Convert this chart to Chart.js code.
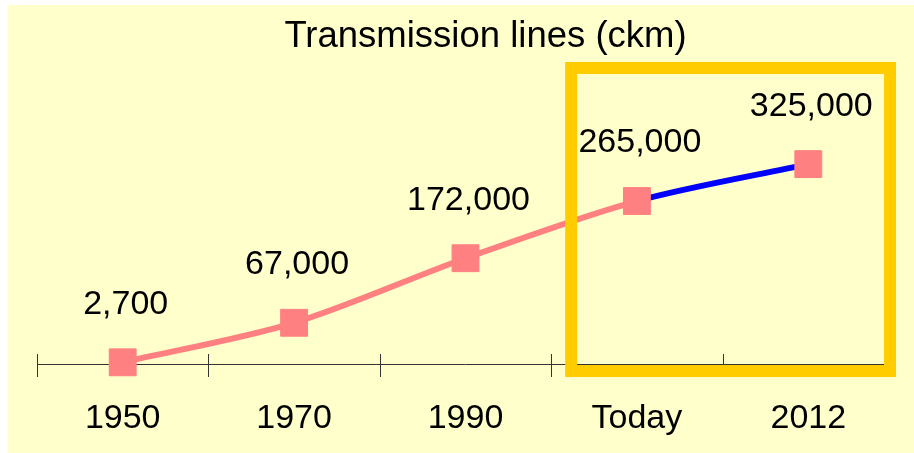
<!DOCTYPE html>
<html>
<head>
<meta charset="utf-8">
<script src="https://cdn.jsdelivr.net/npm/chart.js@4/dist/chart.umd.min.js"></script>
<style>
  html, body { margin: 0; padding: 0; background: #ffffff; }
  #wrap { width: 914px; height: 453px; position: relative; }
</style>
</head>
<body>
<div id="wrap"><canvas id="c" width="914" height="453"></canvas></div>
<script>
const titleText = 'Transmission lines (ckm)';
const categories = ['1950', '1970', '1990', 'Today', '2012'];
const lengthValues = [2700, 67000, 172000, 265000, 325000];
const valueLabels = ['2,700', '67,000', '172,000', '265,000', '325,000'];
const highlightCategories = ['Today', '2012'];
const forecastFromIndex = 3;

const FONT = '"Liberation Sans", Arial, sans-serif';
const PINK = '#FF8080';
const BLUE = '#0000FF';
const GOLD = '#FFCC00';
const BG = '#FFFFCC';

const bgPlugin = {
  id: 'bg',
  beforeDraw(chart) {
    const ctx = chart.ctx;
    ctx.save();
    ctx.fillStyle = BG;
    ctx.fillRect(8, 5, chart.width - 8, chart.height - 5);
    ctx.restore();
  }
};

const titlePlugin = {
  id: 'titleText',
  afterDraw(chart) {
    const ctx = chart.ctx, area = chart.chartArea;
    ctx.save();
    ctx.fillStyle = '#000000';
    ctx.font = '36.5px ' + FONT;
    ctx.textAlign = 'center';
    ctx.textBaseline = 'middle';
    ctx.fillText(titleText, (area.left + area.right) / 2 + 20, 37);
    ctx.restore();
  }
};

const axisPlugin = {
  id: 'axisLine',
  beforeDatasetsDraw(chart) {
    const ctx = chart.ctx, x = chart.scales.x, area = chart.chartArea;
    const y = area.bottom;
    ctx.save();
    ctx.strokeStyle = '#333333';
    ctx.lineWidth = 1;
    ctx.beginPath();
    ctx.moveTo(area.left, y + 0.5);
    ctx.lineTo(area.right, y + 0.5);
    for (let i = 0; i <= categories.length; i++) {
      const px = Math.round(x.getPixelForValue(i - 0.5)) + 0.5;
      ctx.moveTo(px, y - 10);
      ctx.lineTo(px, y + 13);
    }
    ctx.stroke();
    ctx.restore();
  }
};

const highlightPlugin = {
  id: 'highlight',
  afterDatasetsDraw(chart) {
    const ctx = chart.ctx, x = chart.scales.x, area = chart.chartArea;
    const i0 = categories.indexOf(highlightCategories[0]);
    const i1 = categories.indexOf(highlightCategories[highlightCategories.length - 1]);
    const left = x.getPixelForValue(i0 - 0.5) + 20;
    const right = x.getPixelForValue(i1 + 0.5) - 4;
    const top = area.top - 50;
    const bottom = area.bottom + 7;
    ctx.save();
    ctx.strokeStyle = GOLD;
    ctx.lineWidth = 12;
    ctx.strokeRect(left, top, right - left, bottom - top);
    ctx.restore();
  }
};

const labelPlugin = {
  id: 'valueLabels',
  afterDraw(chart) {
    const ctx = chart.ctx;
    const meta = chart.getDatasetMeta(0);
    ctx.save();
    ctx.fillStyle = '#000000';
    ctx.font = '34px ' + FONT;
    ctx.textAlign = 'center';
    ctx.textBaseline = 'middle';
    meta.data.forEach((pt, i) => {
      ctx.fillText(valueLabels[i], pt.x + 3, pt.y - 58);
    });
    ctx.restore();
  }
};

new Chart(document.getElementById('c'), {
  type: 'line',
  data: {
    labels: categories,
    datasets: [{
      data: lengthValues,
      borderColor: PINK,
      borderWidth: 6,
      tension: 0.3,
      cubicInterpolationMode: 'default',
      pointStyle: 'rect',
      pointRadius: 19,
      pointBackgroundColor: PINK,
      pointBorderColor: PINK,
      pointBorderWidth: 1,
      pointHoverRadius: 19,
      segment: {
        borderColor: c => (c.p0DataIndex >= forecastFromIndex ? BLUE : PINK)
      },
      clip: false
    }]
  },
  options: {
    responsive: false,
    animation: false,
    events: [],
    layout: { padding: { left: 37, right: 17, top: 118, bottom: 0 } },
    plugins: {
      legend: { display: false },
      tooltip: { enabled: false },
      title: { display: false }
    },
    scales: {
      x: {
        offset: true,
        grid: { display: false, drawTicks: false },
        border: { display: false },
        ticks: {
          color: '#000000',
          font: { family: FONT, size: 34 },
          padding: 34,
          maxRotation: 0,
          autoSkip: false
        },
        afterFit(s) { s.height = 89; }
      },
      y: {
        display: false,
        min: 0,
        max: 400000
      }
    }
  },
  plugins: [bgPlugin, axisPlugin, highlightPlugin, labelPlugin, titlePlugin]
});
</script>
</body>
</html>
